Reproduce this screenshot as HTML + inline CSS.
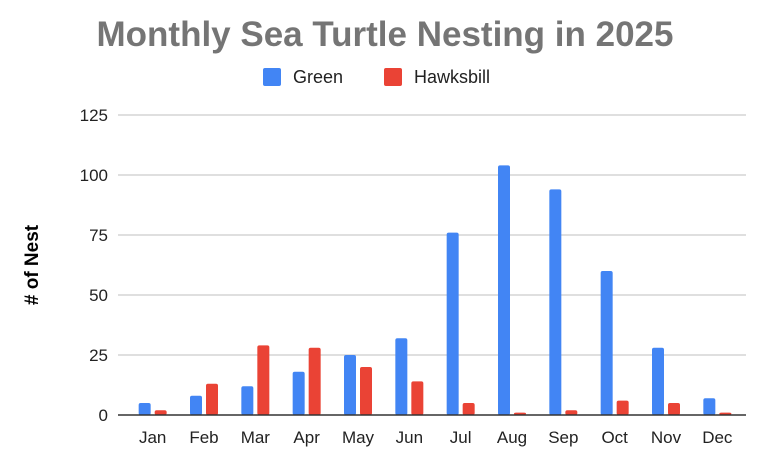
<!DOCTYPE html>
<html><head><meta charset="utf-8"><style>
body{margin:0;background:#fff;font-family:"Liberation Sans",Arial,sans-serif}
svg{display:block}
</style></head><body>
<svg id="chart" width="768" height="460">
<text x="385" y="46" text-anchor="middle" font-size="35" font-weight="bold" fill="#757575">Monthly Sea Turtle Nesting in 2025</text>
<g>
<rect x="263" y="68" width="18" height="18" rx="2" fill="#4285f4"/>
<text x="293" y="83" font-size="18" fill="#222">Green</text>
<rect x="384" y="68" width="18" height="18" rx="2" fill="#ea4335"/>
<text x="414" y="83" font-size="18" fill="#222">Hawksbill</text>
</g>
<text transform="translate(38,265) rotate(-90)" text-anchor="middle" font-size="19" font-weight="bold" fill="#000"># of Nest</text>
<g id="grid"></g><g id="bars"></g><g id="labels"></g>
</svg>
<script>
const categories=["Jan","Feb","Mar","Apr","May","Jun","Jul","Aug","Sep","Oct","Nov","Dec"];
const green=[5,8,12,18,25,32,76,104,94,60,28,7];
const hawksbill=[2,13,29,28,20,14,5,1,2,6,5,1];
const yTicks=[0,25,50,75,100,125];
const NS="http://www.w3.org/2000/svg";
const x0=127,x1=743,yBase=415,yTop=115,yMax=125;
const y=v=>yBase-(v/yMax)*(yBase-yTop);
const band=(x1-x0)/categories.length;
const cx=i=>x0+band*(i+0.5);
function mk(t,a,p){const e=document.createElementNS(NS,t);for(const k in a)e.setAttribute(k,a[k]);p.appendChild(e);return e;}
const grid=document.getElementById('grid'),bars=document.getElementById('bars'),labels=document.getElementById('labels');
yTicks.forEach(t=>{
 if(t>0){const l=mk('line',{x1:118,x2:746,y1:y(t),y2:y(t),stroke:'#cccccc','stroke-width':1.3},grid);
 
 }
 const tx=mk('text',{x:108,y:y(t)+6,'text-anchor':'end','font-size':17,fill:'#222'},labels);
 tx.textContent=t;
 
 
});
const bw=12,gap=4;
categories.forEach((c,i)=>{
 const gv=green[i],hv=hawksbill[i];
 const b1=mk('rect',{x:cx(i)-gap/2-bw,y:y(gv),width:bw,height:yBase-y(gv),rx:2,fill:'#4285f4'},bars);
 
 
 const b2=mk('rect',{x:cx(i)+gap/2,y:y(hv),width:bw,height:yBase-y(hv),rx:2,fill:'#ea4335'},bars);
 
 
 const tx=mk('text',{x:cx(i),y:443,'text-anchor':'middle','font-size':17,fill:'#222'},labels);
 tx.textContent=c;
 
 
});
const ax=mk('line',{x1:118,x2:746,y1:yBase,y2:yBase,stroke:'#333','stroke-width':1.5},bars);


</script>
</body></html>
